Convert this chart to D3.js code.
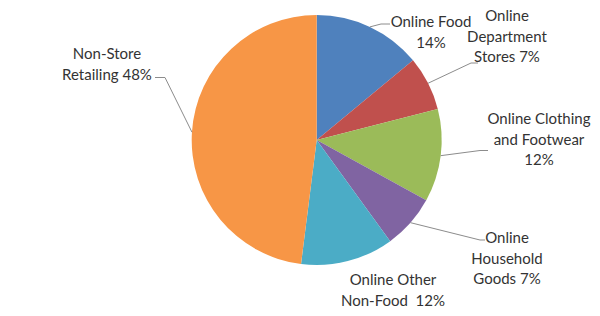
<!DOCTYPE html>
<html>
    <head>
        <meta charset="utf-8">
        <script type="text/javascript" src="https://d3js.org/d3.v7.min.js"></script>
<style>
    body { margin: 0; background: #fff; }
    text { font-family: Lato, "Noto Sans", sans-serif; font-size: 15px; fill: #333; }
</style>
    </head>
    <body>
        <div id="chart"></div>
        <script>
            // data
            var categories = ['Online Food', 'Online Department Stores', 'Online Clothing and Footwear',
                              'Online Household Goods', 'Online Other Non-Food', 'Non-Store Retailing'];
            var values = [14, 7, 12, 7, 12, 48];
            var labelLines = [
                ['Online Food', '14%'],
                ['Online', 'Department', 'Stores 7%'],
                ['Online Clothing', 'and Footwear', '12%'],
                ['Online', 'Household', 'Goods 7%'],
                ['Online Other', 'Non-Food  12%'],
                ['Non-Store', 'Retailing 48%']
            ];

            var colors = ['#4f81bd', '#c0504d', '#9bbb59', '#8064a2', '#4bacc6', '#f79646'];

            var chart_width = 600;
            var chart_height = 316;
            var cx = 316.7, cy = 140, radius = 125;

            // label layout: text centre x, first line centre y, elbow point, line end (null = no leader)
            var labelLayout = [
                {x: 431, y: 21, elbow: [381, 24], end: [390, 24]},
                {x: 507, y: 15, elbow: [471, 63], end: [478, 63]},
                {x: 539, y: 118, elbow: [480, 150.5], end: [488, 150.5]},
                {x: 507, y: 237, elbow: [480, 240], end: [485, 240]},
                {x: 393, y: 279, elbow: null, end: null},
                {x: 107, y: 53, elbow: [165, 77.5], end: [155, 77.5]}
            ];
            var line_height = 20.5;

            var svg = d3.select('#chart')
                .append('svg')
                .attr('width', chart_width)
                .attr('height', chart_height);

            var pie = d3.pie().sort(null).value((d) => d);
            var arcs = pie(values);

            var arc = d3.arc().innerRadius(0).outerRadius(radius);

            var g = svg.append('g')
                .attr('transform', 'translate(' + cx + ',' + cy + ')');

            g.selectAll('path')
                .data(arcs)
                .enter()
                .append('path')
                .attr('d', arc)
                .attr('fill', (d, i) => colors[i]);

            // leader lines
            svg.selectAll('polyline')
                .data(arcs)
                .enter()
                .filter((d, i) => labelLayout[i].elbow)
                .append('polyline')
                .attr('points', (d) => {
                    var i = d.index;
                    var a = (d.startAngle + d.endAngle) / 2;
                    var px = cx + radius * Math.sin(a);
                    var py = cy - radius * Math.cos(a);
                    var L = labelLayout[i];
                    return [[px, py], L.elbow, L.end].map((p) => p.join(',')).join(' ');
                })
                .attr('fill', 'none')
                .attr('stroke', '#8c8c8c')
                .attr('stroke-width', 1);

            // labels
            var labels = svg.selectAll('text.label')
                .data(arcs)
                .enter()
                .append('text')
                .attr('class', 'label')
                .attr('text-anchor', 'middle')
                .attr('dominant-baseline', 'central');

            labels.selectAll('tspan')
                .data((d) => labelLines[d.index].map((t, j) => ({t: t, j: j, i: d.index})))
                .enter()
                .append('tspan')
                .attr('x', (d) => labelLayout[d.i].x)
                .attr('y', (d) => labelLayout[d.i].y + d.j * line_height)
                .style('white-space', 'pre')
                .text((d) => d.t);
        </script>
    </body>
</html>
